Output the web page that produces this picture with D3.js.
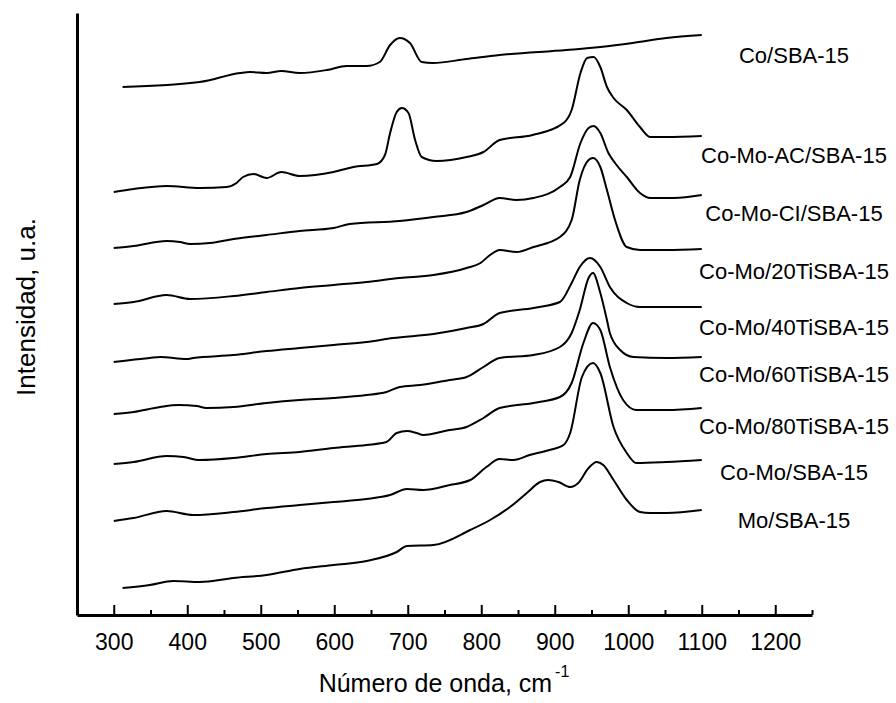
<!DOCTYPE html>
<html>
<head>
<meta charset="utf-8">
<script src="https://cdn.jsdelivr.net/npm/d3@7"></script>
<style>
    body { margin: 0; background: #fff; }
    svg { display: block; font-family: "Liberation Sans", Arial, sans-serif; }
</style>
</head>
<body>
<div id="chart"></div>
<script>
// FTIR spectra, stacked (intensity in arbitrary units, offsets included)

const seriesLabels = [
    'Co/SBA-15', 'Co-Mo-AC/SBA-15', 'Co-Mo-CI/SBA-15', 'Co-Mo/20TiSBA-15',
    'Co-Mo/40TiSBA-15', 'Co-Mo/60TiSBA-15', 'Co-Mo/80TiSBA-15', 'Co-Mo/SBA-15', 'Mo/SBA-15'
];

const majorTicks = [300, 400, 500, 600, 700, 800, 900, 1000, 1100, 1200];
const minorTicks = [350, 450, 550, 650, 750, 850, 950, 1050, 1150, 1250];

// [wavenumber, intensity]
const coSBA = [[312,528],[417,533],[472,542],[485,543],[508,542],[528,544],[553,542],[590,545],[617,549],[644,549],
    [662,553],[676,570],[689,577],[703,572],[719,553],[734,552],[780,556],[825,560],[916,565],[962,568],[1006,572],[1052,577],[1100,580]];

const coMoAC = [[300,423],[327,426],[372,429],[417,427],[454,428],[467,432],[476,438],[490,441],[508,437],[528,443],
    [553,439],[599,443],[626,448],[658,451],[669,460],[676,482],[685,503],[692,507],[701,502],[710,475],[719,458],
    [739,454],[780,458],[803,463],[825,475],[870,480],[912,492],[923,505],[935,542],[944,557],[953,558],[962,548],
    [971,528],[980,517],[998,505],[1016,488],[1030,478],[1052,478],[1100,479]];

const coMoCI = [[300,367],[327,369],[372,374],[390,373],[404,371],[431,372],[463,376],[508,380],[553,384],[599,387],
    [621,391],[689,394],[735,398],[780,403],[803,410],[825,417],[848,415],[871,417],[907,428],[921,438],[935,472],
    [946,487],[953,489],[962,482],[973,462],[982,452],[998,438],[1016,422],[1030,417],[1062,417],[1100,420]];

const coMo20Ti = [[300,311],[327,313],[372,320],[404,316],[463,319],[508,323],[553,327],[599,330],[644,333],[689,337],
    [735,340],[780,347],[799,352],[812,360],[825,365],[848,363],[871,368],[907,378],[923,395],[934,435],[946,455],
    [952,457],[962,448],[971,425],[982,395],[998,368],[1016,365],[1052,365],[1100,366]];

const coMo40Ti = [[300,253],[349,257],[363,258],[399,256],[408,257],[463,260],[508,264],[553,267],[599,270],[644,273],
    [680,277],[735,281],[780,287],[803,291],[825,302],[871,307],[907,313],[923,332],[934,348],[948,357],[962,348],
    [975,328],[998,312],[1016,308],[1052,308],[1100,308]];

const coMo60Ti = [[300,201],[327,203],[363,208],[388,210],[413,209],[426,207],[463,208],[508,212],[553,215],[599,217],
    [644,220],[671,223],[689,228],[717,230],[757,235],[780,238],[803,248],[825,257],[871,260],[907,268],[923,282],
    [934,305],[946,337],[952,342],[962,322],[971,295],[975,282],[989,265],[1007,258],[1052,257],[1100,258]];

const coMo80Ti = [[300,151],[327,153],[372,159],[395,158],[417,155],[463,157],[508,161],[553,163],[599,167],[644,170],
    [671,173],[685,182],[699,184],[712,182],[721,180],[757,185],[780,188],[803,197],[825,207],[871,212],[907,218],
    [923,232],[939,272],[952,292],[962,285],[975,248],[993,215],[1011,205],[1052,205],[1100,207]];

const coMoSBA = [[300,94],[327,97],[372,104],[408,100],[463,103],[508,107],[553,110],[599,113],[644,116],[676,120],
    [699,126],[721,125],[757,130],[785,135],[807,148],[825,156],[844,155],[866,160],[893,165],[912,170],[921,182],
    [937,238],[952,252],[962,242],[980,188],[998,162],[1011,152],[1052,153],[1100,155]];

const moSBA = [[312,27],[349,30],[381,34],[417,33],[463,37],[508,40],[553,46],[599,50],[644,54],[685,63],[699,69],
    [735,70],[785,85],[812,95],[839,108],[862,122],[880,133],[891,135],[905,133],[921,128],[932,132],[946,147],
    [957,153],[966,150],[980,135],[998,115],[1016,103],[1030,102],[1052,102],[1100,105]];

const seriesData = [coSBA, coMoAC, coMoCI, coMo20Ti, coMo40Ti, coMo60Ti, coMo80Ti, coMoSBA, moSBA];

// Layout
const width = 896, height = 703;
const plot = { left: 77, right: 812, top: 13, bottom: 615 };
const labelX = 794;
const labelY = [55, 155, 213, 271, 327, 374, 426, 472, 520];

const svg = d3.select('#chart').append('svg')
    .attr('width', width)
    .attr('height', height);

const x = d3.scaleLinear().domain([250, 1250]).range([plot.left, plot.right]);
const y = d3.scaleLinear().domain([0, 602]).range([plot.bottom, plot.top]);

// Minor ticks (no labels)
svg.append('g')
    .attr('transform', `translate(0,${plot.bottom})`)
    .call(d3.axisBottom(x).tickValues(minorTicks).tickSize(-5).tickSizeOuter(0).tickFormat(''))
    .call(g => g.select('.domain').remove())
    .call(g => g.selectAll('.tick line').attr('stroke', '#000').attr('stroke-width', 2));

// Major ticks + labels
const xAxis = svg.append('g')
    .attr('transform', `translate(0,${plot.bottom})`)
    .call(d3.axisBottom(x).tickValues(majorTicks).tickSize(-10).tickSizeOuter(0).tickPadding(19).tickFormat(d3.format('d')));

xAxis.select('.domain').attr('stroke', '#000').attr('stroke-width', 3);
xAxis.selectAll('.tick line').attr('stroke', '#000').attr('stroke-width', 2);
xAxis.selectAll('.tick text')
    .attr('fill', '#000')
    .style('font-size', '23px')
    .style('font-family', '"Liberation Sans", Arial, sans-serif');

// Left axis: plain line, no ticks
const yAxis = svg.append('g')
    .attr('transform', `translate(${plot.left},0)`)
    .call(d3.axisLeft(y).tickValues([]).tickSizeOuter(0));
yAxis.select('.domain').attr('stroke', '#000').attr('stroke-width', 3);

// Spectra
const line = d3.line()
    .x(d => x(d[0]))
    .y(d => y(d[1]))
    .curve(d3.curveMonotoneX);

svg.append('g')
    .selectAll('path')
    .data(seriesData)
    .enter().append('path')
    .attr('d', line)
    .attr('fill', 'none')
    .attr('stroke', '#000')
    .attr('stroke-width', 2)
    .attr('stroke-linejoin', 'round');

// Series labels
svg.append('g')
    .selectAll('text')
    .data(seriesLabels)
    .enter().append('text')
    .attr('x', labelX)
    .attr('y', (d, i) => labelY[i])
    .attr('dy', '0.35em')
    .attr('text-anchor', 'middle')
    .style('font-size', '22px')
    .text(d => d);

// Axis titles
const xTitle = svg.append('text')
    .attr('x', 444)
    .attr('y', 692)
    .attr('text-anchor', 'middle')
    .style('font-size', '25px');
xTitle.append('tspan').text('Número de onda, cm');
xTitle.append('tspan')
    .attr('dy', -15)
    .attr('dx', 3)
    .style('font-size', '16px')
    .text('-1');

svg.append('text')
    .attr('transform', 'translate(35,307) rotate(-90)')
    .attr('text-anchor', 'middle')
    .style('font-size', '26px')
    .text('Intensidad, u.a.');
</script>
</body>
</html>
